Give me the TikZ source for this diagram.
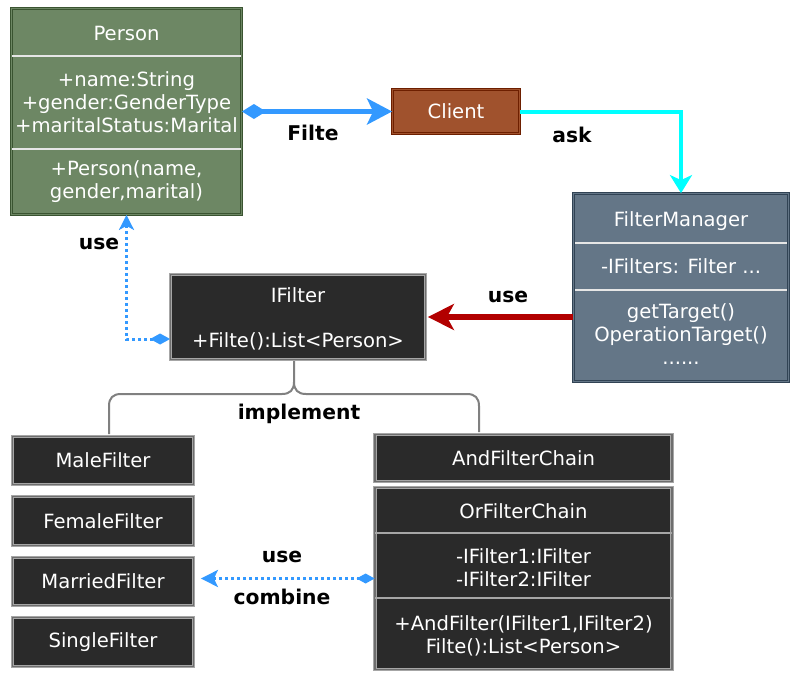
\documentclass[tikz,border=0pt]{standalone}
\usepackage{fontspec}
\setmainfont{DejaVu Sans}
\usetikzlibrary{arrows.meta}
\definecolor{pfill}{HTML}{6D8764}
\definecolor{pline}{HTML}{3A5431}
\definecolor{cfill}{HTML}{A0522D}
\definecolor{cline}{HTML}{6D1F00}
\definecolor{mfill}{HTML}{647687}
\definecolor{mline}{HTML}{314354}
\definecolor{dfill}{HTML}{2A2A2A}
\definecolor{dline}{HTML}{A6A6A6}
\definecolor{dgap}{HTML}{6E6E6E}
\definecolor{sepc}{HTML}{E6E6E6}
\definecolor{fblue}{HTML}{3399FF}
\definecolor{fcyan}{HTML}{00FFFF}
\definecolor{fred}{HTML}{B20000}
\definecolor{bracec}{HTML}{808080}
\begin{document}
\begin{tikzpicture}[x=1pt,y=-1pt,
  box/.style={rectangle, inner sep=0pt, line width=0.8pt, double distance=1.6pt},
  personbox/.style={box, draw=pline, double=pfill, fill=pfill},
  clientbox/.style={box, draw=cline, double=cfill, fill=cfill},
  mgrbox/.style={box, draw=mline, double=mfill, fill=mfill},
  darkbox/.style={box, draw=dline, double=dgap, fill=dfill},
  txt/.style={text=white, inner sep=0pt, align=center, font=\fontsize{19.6}{23}\selectfont},
  lbl/.style={text=black, inner sep=0pt, font=\bfseries\fontsize{20.3}{23}\selectfont},
  sepline/.style={draw=sepc, line width=2pt},
  darksep/.style={draw=dline, line width=1.5pt},
  bluearrow/.style={draw=fblue, line width=5pt, {Diamond[length=24pt,width=15pt]}-{Stealth[length=25pt,width=26pt,inset=6pt]}},
  cyanarrow/.style={draw=fcyan, line width=4pt, -{Stealth[length=18pt,width=22pt,inset=5pt]}},
  redarrow/.style={draw=fred, line width=5.5pt, -{Stealth[length=26pt,width=26pt,inset=7pt]}},
  dotarrow/.style={draw=fblue, line width=3pt, dash pattern=on 3pt off 3pt},
  bracestyle/.style={draw=bracec, line width=2pt}
]
\useasboundingbox (0,0) rectangle (803,680);

% Person
\node[personbox, minimum width=230pt, minimum height=206pt] (person) at (126.5,111.5) {};
\draw[sepline] (12,56) -- (241,56);
\draw[sepline] (12,149) -- (241,149);
\node[txt] (ptitle) at (126.5,33) {Person};
\node[txt] (pattr) at (126.5,102) {+name:String\\+gender:GenderType\\+maritalStatus:Marital};
\node[txt] (pmeth) at (126.5,182) {+Person(name,\\gender,marital)};

% Client
\node[clientbox, txt, minimum width=127pt, minimum height=44pt] (client) at (456,111.5) {Client};

% FilterManager
\node[mgrbox, minimum width=215pt, minimum height=188pt] (fm) at (681,287.5) {};
\draw[sepline] (575,243) -- (787,243);
\draw[sepline] (575,290) -- (787,290);
\node[txt] (fmtitle) at (681,221) {FilterManager};
\node[txt] (fmattr) at (681,266) {-IFilters: Filter ...};
\node[txt] (fmmeth) at (681,334) {getTarget()\\OperationTarget()\\......};

% IFilter
\node[darkbox, minimum width=255pt, minimum height=85pt] (ifilter) at (298,317) {};
\node[txt] (iftitle) at (298,295) {IFilter};
\node[txt] (ifmeth) at (298,341) {+Filte():List<Person>};

% left filters
\node[darkbox, txt, minimum width=181pt, minimum height=48pt] (male) at (103,460.5) {MaleFilter};
\node[darkbox, txt, minimum width=181pt, minimum height=49pt] (female) at (103,521) {FemaleFilter};
\node[darkbox, txt, minimum width=181pt, minimum height=48pt] (married) at (103,581.5) {MarriedFilter};
\node[darkbox, txt, minimum width=181pt, minimum height=49pt] (single) at (103,642) {SingleFilter};

% chains
\node[darkbox, txt, minimum width=297pt, minimum height=47pt] (andf) at (523.5,458) {AndFilterChain};
\node[darkbox, minimum width=297pt, minimum height=182pt] (orf) at (523.5,578.5) {};
\draw[darksep] (375,533) -- (672,533);
\draw[darksep] (375,598) -- (672,598);
\node[txt] (orftitle) at (523.5,511) {OrFilterChain};
\node[txt] (orfattr) at (523.5,568) {-IFilter1:IFilter\\-IFilter2:IFilter};
\node[txt] (orfmeth) at (523.5,636) {+AndFilter(IFilter1,IFilter2)\\Filte():List<Person>};

% connectors
\draw[bluearrow] (person.east |- client.west) -- (client.west);
\draw[cyanarrow] (client.east) -| (fm.north);
\draw[redarrow] (fm.west |- ifilter.east) -- ([xshift=2pt]ifilter.east);
\draw[dotarrow, {Diamond[length=20pt,width=11pt]}-{Stealth[length=15pt,width=15pt,inset=4pt]}]
  ([yshift=-22pt]ifilter.west) -| (person.south);
\draw[dotarrow, {Diamond[length=18pt,width=10pt]}-{Stealth[length=17pt,width=17pt,inset=4pt]}, shorten >=7pt]
  (orf.west) -- (orf.west -| married.east);

% brace (implement)
\coordinate (bc) at (294,382);
\draw[bracestyle] (294,361) -- (bc)
  .. controls (294,390) and (290,394) .. (282,394) -- (121,394)
  .. controls (113,394) and (109,398) .. (109,406) -- (109,434);
\draw[bracestyle] (bc)
  .. controls (294,390) and (298,394) .. (306,394) -- (467,394)
  .. controls (475,394) and (479,398) .. (479,406) -- (479,432);

% labels
\node[lbl] (lfilte) at (313,133) {Filte};
\node[lbl] (lask) at (572,135) {ask};
\node[lbl] (luse1) at (508,297) {use};
\node[lbl] (luse2) at (99,244) {use};
\node[lbl] (limpl) at (299,414) {implement};
\node[lbl] (luse3) at (282,557) {use};
\node[lbl] (lcomb) at (282,597) {combine};
\end{tikzpicture}
\end{document}
